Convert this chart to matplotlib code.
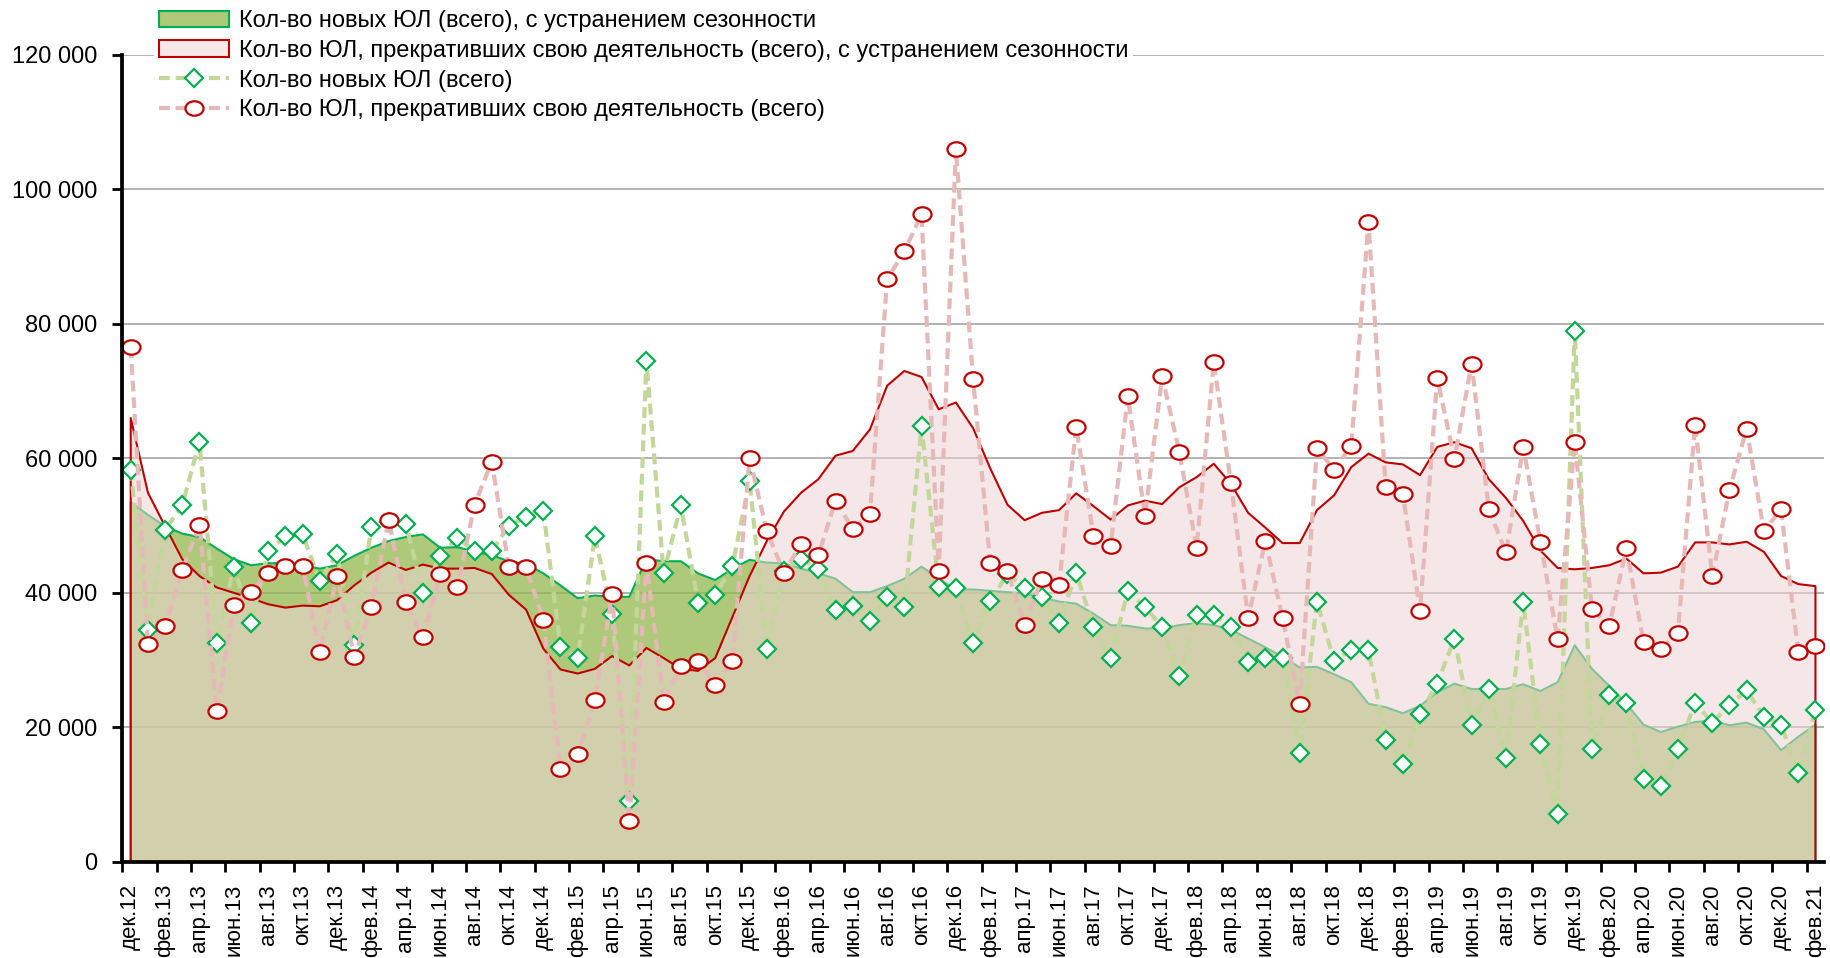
import matplotlib
matplotlib.use('Agg')
import matplotlib.pyplot as plt
import numpy as np
from matplotlib.patches import Patch
from matplotlib.lines import Line2D
from matplotlib.path import Path
from matplotlib.ticker import FuncFormatter, FixedLocator

month_names = ['янв', 'фев', 'мар', 'апр', 'май', 'июн', 'июл', 'авг', 'сен', 'окт', 'ноя', 'дек']
# дек.12 ... фев.21
periods = ['дек.12'] + [f'{m}.{y}' for y in range(13, 21) for m in month_names] + ['янв.21', 'фев.21']

new_sa = [53500, 51600, 49900, 48800, 48300, 46600, 45000, 44100, 44400, 44400, 44100, 43600,
          44100, 45500, 46700, 47700, 48300, 48700, 46700, 46800, 46100, 45600, 44700, 44300,
          42900, 41100, 39200, 39600, 39400, 39400, 45000, 44700, 44700, 42900, 41900, 43600,
          44900, 44500, 44400, 43600, 42900, 42100, 40100, 40100, 41000, 42100, 43900, 42100,
          40500, 40500, 40300, 40100, 39900, 39300, 38700, 38400, 36900, 35200, 35100, 34700,
          34700, 35200, 35500, 35200, 34500, 33200, 31900, 30500, 28900, 29000, 27900, 26700,
          23500, 23000, 22100, 23200, 25200, 26500, 25700, 25700, 25700, 26400, 25400, 26700,
          32200, 28700, 26200, 23500, 20400, 19300, 20100, 20800, 21000, 20300, 20700, 19700,
          16600, 18600, 20400]

closed_sa = [66000, 54900, 49900, 45000, 42500, 40800, 40000, 39200, 38300, 37800, 38100, 38000,
             38900, 41100, 43000, 44500, 43400, 44200, 43600, 43600, 43700, 42800, 39700, 37500,
             31700, 28600, 28000, 28700, 30600, 29200, 31800, 30300, 28700, 28400, 30300, 36400,
             42500, 47700, 52100, 54900, 56900, 60400, 61100, 64300, 70800, 73000, 72100, 67300,
             68300, 64500, 58500, 53100, 50800, 51900, 52300, 54800, 52900, 50900, 53000, 53700,
             53200, 55700, 57200, 59200, 56200, 51900, 49700, 47400, 47400, 52300, 54500, 58700,
             60700, 59400, 59100, 57500, 61700, 62400, 61500, 56900, 54100, 50700, 46300, 43700,
             43500, 43700, 44100, 45100, 42900, 43000, 43900, 47500, 47500, 47200, 47600, 46100,
             42500, 41300, 41000]

new_raw = [58300, 34500, 49400, 53000, 62500, 32600, 43900, 35500, 46200, 48400, 48700, 41700,
           45800, 32300, 49800, 50500, 50300, 40000, 45500, 48200, 46200, 46200, 50000, 51300,
           52200, 31900, 30300, 48400, 36800, 9000, 74500, 42900, 53000, 38500, 39700, 44000,
           56700, 31600, 43300, 45100, 43500, 37500, 38100, 35800, 39400, 37900, 64800, 40900,
           40700, 32600, 38800, 42800, 40700, 39400, 35500, 43000, 34900, 30300, 40200, 37900,
           34900, 27700, 36700, 36700, 34900, 29700, 30300, 30300, 16200, 38700, 29900, 31500,
           31500, 18100, 14500, 22000, 26500, 33200, 20300, 25700, 15400, 38700, 17500, 7100,
           79000, 16800, 24800, 23600, 12300, 11300, 16800, 23600, 20700, 23300, 25500, 21600,
           20400, 13200, 22600]

closed_raw = [76500, 32400, 35000, 43400, 50100, 22400, 38200, 40100, 43000, 44000, 44000, 31200,
              42500, 30500, 37900, 50800, 38600, 33400, 42800, 40800, 53100, 59500, 43800, 43800,
              36000, 13800, 16000, 24100, 39800, 6000, 44400, 23700, 29100, 29900, 26300, 29900,
              60100, 49200, 43000, 47300, 45600, 53700, 49500, 51700, 86600, 90800, 96300, 43300,
              106000, 71800, 44400, 43200, 35200, 42100, 41200, 64700, 48500, 46900, 69200, 51500,
              72200, 60900, 46700, 74300, 56300, 36300, 47700, 36300, 23400, 61500, 58300, 61900,
              95100, 55700, 54700, 37300, 71900, 59900, 74100, 52400, 46000, 61700, 47600, 33100,
              62400, 37600, 35000, 46600, 32700, 31700, 34100, 65000, 42500, 55300, 64400, 49200,
              52400, 31200, 32100]

labels = ['Кол-во новых ЮЛ (всего), с устранением сезонности',
          'Кол-во ЮЛ, прекративших свою деятельность (всего), с устранением сезонности',
          'Кол-во новых ЮЛ (всего)',
          'Кол-во ЮЛ, прекративших свою деятельность (всего)']

plt.rcParams['font.family'] = ['Liberation Sans', 'DejaVu Sans']

x = np.arange(len(periods))

fig = plt.figure(figsize=(18.31, 9.58), dpi=100)
ax = fig.add_axes([0.0667, 0.1004, 0.9295, 0.8423])

green_fill = '#94b74e'
green_edge = '#00b050'
pink_fill = '#eed4d6'
red_edge = '#c00000'

ax.fill_between(x, 0, new_sa, color=green_fill, alpha=0.75, lw=0, zorder=2)
ax.plot(np.r_[x[0], x, x[-1]], np.r_[0, new_sa, 0], color=green_edge, lw=1.5, zorder=2.1)
ax.fill_between(x, 0, closed_sa, color=pink_fill, alpha=0.55, lw=0, zorder=3)
ax.plot(np.r_[x[0], x, x[-1]], np.r_[0, closed_sa, 0], color=red_edge, lw=1.5, zorder=3.1)

circ = Path.unit_circle()
ellipse = Path(circ.vertices * np.array([1.0, 0.8]), circ.codes)

ax.plot(x, new_raw, color='#c4d79b', lw=3, dashes=(2.6, 1.4), marker='D', ms=9,
        mfc='white', mec=green_edge, mew=1.6, zorder=4)
ax.plot(x, closed_raw, color='#e6b9b8', lw=3, dashes=(2.6, 1.4), marker=ellipse, ms=13,
        mfc='white', mec=red_edge, mew=1.6, zorder=5)

ax.set_xlim(-0.5, len(periods) - 0.5)
ax.set_ylim(0, 120000)
ax.set_yticks(np.arange(0, 120001, 20000))
ax.yaxis.set_major_formatter(FuncFormatter(lambda v, p: f'{int(v):,}'.replace(',', ' ')))
ax.grid(axis='y', color='#a6a6a6', lw=1.2, zorder=0)
ax.set_axisbelow(True)

ax.xaxis.set_major_locator(FixedLocator(np.arange(-0.5, len(periods) - 1, 2)))
ax.xaxis.set_minor_locator(FixedLocator(x[::2]))
ax.set_xticklabels([])
ax.set_xticklabels(periods[::2], minor=True, rotation=90, fontsize=16)
ax.tick_params(axis='x', which='major', length=7, width=2, direction='out')
ax.tick_params(axis='x', which='minor', length=0, pad=16)
ax.tick_params(axis='y', length=7, width=2, direction='out', labelsize=17, pad=11)

for s in ['top', 'right']:
    ax.spines[s].set_visible(False)
ax.spines['left'].set_linewidth(2.7)
ax.spines['bottom'].set_linewidth(2.7)
ax.spines['left'].set_zorder(6)
ax.spines['bottom'].set_zorder(6)

handles = [Patch(facecolor='#afc97a', edgecolor=green_edge, lw=1.5),
           Patch(facecolor='#f6e8e9', edgecolor=red_edge, lw=1.5),
           Line2D([], [], color='#c4d79b', lw=3, dashes=(2.6, 1.4), marker='D', ms=9,
                  mfc='white', mec=green_edge, mew=1.6),
           Line2D([], [], color='#e6b9b8', lw=3, dashes=(2.6, 1.4), marker=ellipse, ms=13,
                  mfc='white', mec=red_edge, mew=1.6)]
leg = ax.legend(handles, labels, loc='upper left', bbox_to_anchor=(0.084, 0.994),
                bbox_transform=fig.transFigure, fontsize=17, frameon=True, fancybox=False,
                edgecolor='none', facecolor='white', framealpha=1, handlelength=3,
                handletextpad=0.4, labelspacing=0.32, borderpad=0.2, borderaxespad=0)
leg.set_zorder(10)

fig.savefig('out.png', dpi=100)
